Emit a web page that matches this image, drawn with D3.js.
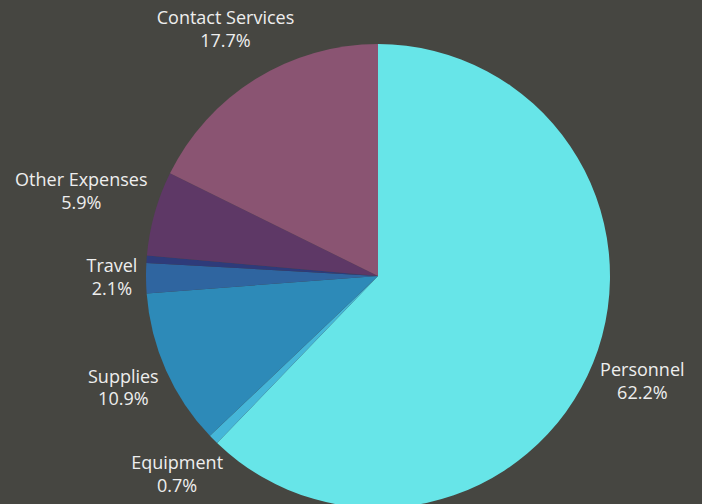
<!DOCTYPE html>
<html>
<head>
<meta charset="utf-8">
<script src="https://cdn.jsdelivr.net/npm/d3@7"></script>
<style>
  html, body { margin: 0; padding: 0; background: #464641; overflow: hidden; }
  svg { display: block; }
</style>
</head>
<body>
<svg id="chart" width="702" height="504"></svg>
<script>
const categories = ["Personnel", "Equipment", "Supplies", "Travel", "Miscellaneous", "Other Expenses", "Contact Services"];
const values = [62.2, 0.7, 10.9, 2.1, 0.5, 5.9, 17.7];
const showLabel = [true, true, true, true, false, true, true];
const colors = ["#67e5e8", "#45b6d8", "#2d8ab8", "#2f65a0", "#2e3b7a", "#5e3866", "#8a5472"];

const W = 702, H = 504;
const cx = 378, cy = 276, R = 232;

const data = categories.map((c, i) => ({ name: c, value: values[i], color: colors[i], show: showLabel[i] }));

const svg = d3.select("#chart");
const g = svg.append("g").attr("transform", `translate(${cx},${cy})`);

const pie = d3.pie().sort(null).value(d => d.value).startAngle(0).endAngle(2 * Math.PI);
const arc = d3.arc().innerRadius(0).outerRadius(R);
const arcs = pie(data);

g.selectAll("path.slice").data(arcs).enter().append("path")
  .attr("class", "slice")
  .attr("d", arc)
  .attr("fill", d => d.data.color);

const fmt = d3.format(".1f");
const gap = 8.5;
const lineH = 22.5;
const halfH = 14.3;

const labels = g.selectAll("g.label").data(arcs.filter(d => d.data.show)).enter().append("g")
  .attr("class", "label");

labels.each(function(d) {
  const lg = d3.select(this);
  const t = lg.append("text")
    .attr("text-anchor", "middle")
    .attr("font-family", "'Open Sans', sans-serif")
    .attr("font-size", 18)
    .attr("fill", "#eeeeee");
  t.append("tspan").attr("x", 0).attr("y", -lineH / 2).attr("dy", "0.27em").text(d.data.name);
  t.append("tspan").attr("x", 0).attr("y", lineH / 2).attr("dy", "0.27em").text(fmt(d.data.value) + "%");
  const bb = t.node().getBBox();
  const mid = (d.startAngle + d.endAngle) / 2;
  const ux = Math.sin(mid), uy = -Math.cos(mid);
  const ext = (bb.width / 2) * Math.abs(ux) + halfH * Math.abs(uy);
  const dist = R + gap + ext;
  lg.attr("transform", `translate(${ux * dist},${uy * dist})`);
});
</script>
</body>
</html>
